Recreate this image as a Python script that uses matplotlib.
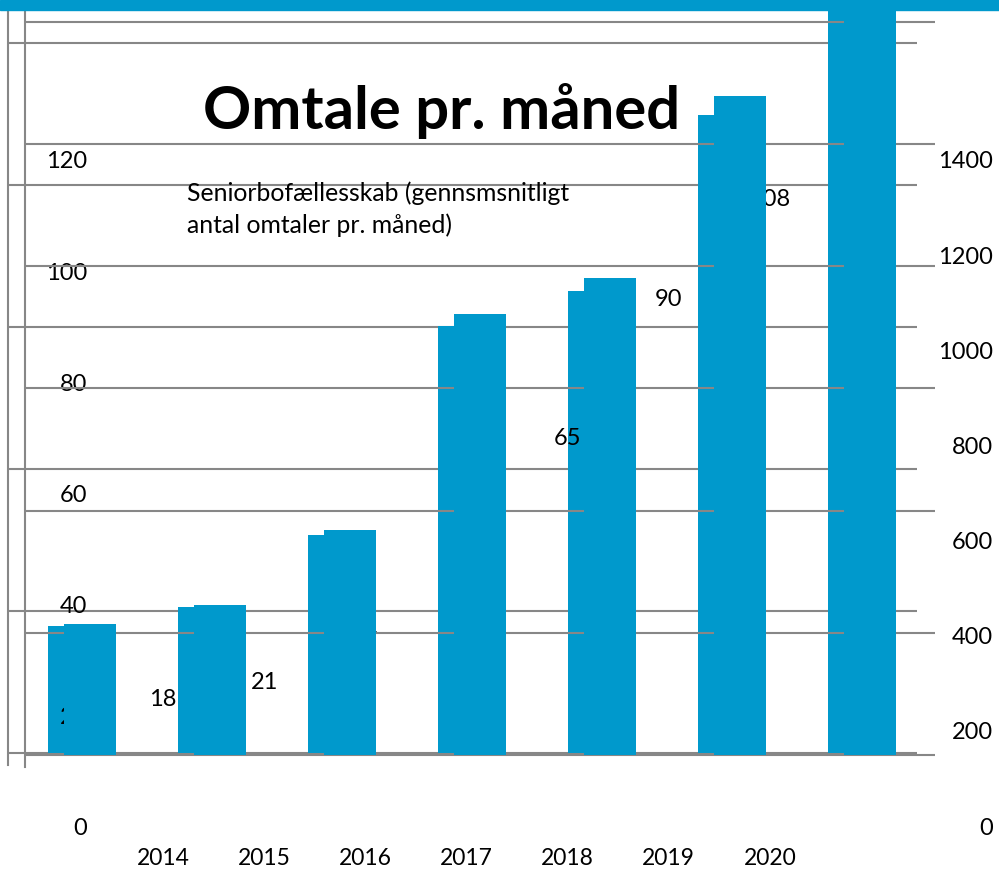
import matplotlib
matplotlib.use("Agg")
import matplotlib.pyplot as plt
import numpy as np
from matplotlib.patches import Rectangle

YEARS = ["2014", "2015", "2016", "2017", "2018", "2019", "2020"]
# omtaler pr. år (søjlerne)
ANNUAL = [215, 246, 368, 722, 781, 1079, 1296]
# gennemsnitligt antal omtaler pr. måned (datalabels)
MONTHLY = [18, 21, 31, 60, 65, 90, 108]
LEFT_TICKS = [0, 20, 40, 60, 80, 100, 120]
RIGHT_TICKS = [0, 200, 400, 600, 800, 1000, 1200, 1400]
GRID1_TICKS = [0, 20, 40, 60, 80, 100]
GRID2_TICKS = [0, 200, 400, 600, 800, 1000, 1200]

BLUE = "#0099CC"
GRID = "#878787"
W, H = 999, 871

plt.rcParams["font.family"] = ["Lato", "DejaVu Sans"]

fig = plt.figure(figsize=(W / 100, H / 100), dpi=100)


def px_axes(left, top, right, bottom):
    # akser placeret i pixelkoordinater (fra øverste venstre hjørne)
    return fig.add_axes([left / W, 1 - bottom / H, (right - left) / W, (bottom - top) / H])


def strip(ax):
    ax.patch.set_visible(False)
    for side in ("top", "right", "bottom"):
        ax.spines[side].set_visible(False)
    ax.spines["left"].set_color(GRID)
    ax.spines["left"].set_linewidth(1.5)
    ax.tick_params(left=False, bottom=False, labelleft=False, labelbottom=False)


x = np.arange(len(YEARS))

# Første lag: månedsskala, søjler lidt forskudt
ax1 = px_axes(8, 0, 917, 765)
s1 = 7.1
ax1.set_ylim(-12 / s1, 753 / s1)
ax1.set_xlim((8 - 74) / 130, (917 - 74) / 130)
ax1.bar(x, [v / 12 for v in ANNUAL], width=0.4, color=BLUE, zorder=2)
ax1.set_yticks(GRID1_TICKS)
ax1.yaxis.grid(True, color=GRID, linewidth=1.5)
ax1.set_axisbelow(True)
strip(ax1)
ax1.set_zorder(1)

# Tekstlag: akselabels og datalabels
ax3 = px_axes(112.5, 160, 820.5, 826)
ax3.set_xlim(-0.5, 6.5)
ax3.set_ylim(0, 120)
ax3.patch.set_visible(False)
for sp in ax3.spines.values():
    sp.set_visible(False)
ax3.set_yticks(LEFT_TICKS)
ax3.set_yticklabels([str(t) for t in LEFT_TICKS])
ax3.set_xticks(x)
ax3.set_xticklabels(YEARS)
ax3.tick_params(axis="y", length=0, labelsize=17, pad=18.4)
ax3.tick_params(axis="x", length=0, labelsize=16.5, pad=16)
for i, v in enumerate(MONTHLY):
    ax3.annotate(str(v), (i, v), xytext=(0, 19.5), textcoords="offset points",
                 ha="center", va="center", fontsize=17)
ax3.set_zorder(2)

ax3r = ax3.twinx()
ax3r.set_ylim(0, 1400)
ax3r.set_yticks(RIGHT_TICKS)
ax3r.set_yticklabels([str(t) for t in RIGHT_TICKS])
ax3r.tick_params(axis="y", length=0, labelsize=17, pad=124)
for lab in ax3r.get_yticklabels():
    lab.set_horizontalalignment("right")
for sp in ax3r.spines.values():
    sp.set_visible(False)
ax3r.patch.set_visible(False)
ax3r.set_zorder(2)

# Andet lag: årsskala, søjler øverst
ax2 = px_axes(25, 0, 935, 767)
s2 = 733 / 1200
ax2.set_ylim(-12 / s2, 755 / s2)
ax2.set_xlim(-0.5, 6.5)
ax2.bar(x, ANNUAL, width=0.4, color=BLUE, zorder=2)
ax2.set_yticks(GRID2_TICKS)
ax2.yaxis.grid(True, color=GRID, linewidth=1.5)
ax2.set_axisbelow(True)
strip(ax2)
ax2.set_zorder(3)

fig.text(442 / W, 1 - 129 / H, "Omtale pr. måned", ha="center", va="baseline",
         fontsize=43, fontweight="bold")
fig.text(187 / W, 1 - 201 / H, "Seniorbofællesskab (gennsmsnitligt", ha="left",
         va="baseline", fontsize=17.8)
fig.text(187 / W, 1 - 233 / H, "antal omtaler pr. måned)", ha="left",
         va="baseline", fontsize=17.8)

fig.add_artist(Rectangle((0, 1 - 10 / H), 1, 10 / H, transform=fig.transFigure,
                         color=BLUE, zorder=10))

fig.savefig("out.png", dpi=100)
